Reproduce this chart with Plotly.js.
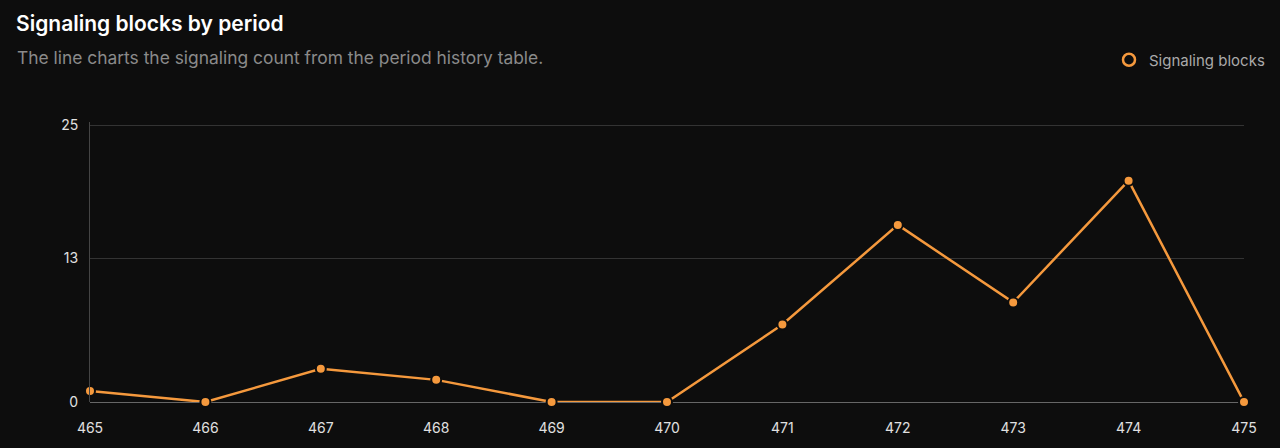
<!DOCTYPE html>
<html>
<head>
<meta charset="utf-8">
<script src="https://cdn.plot.ly/plotly-3.0.1.min.js"></script>
<style>
html,body{margin:0;padding:0;background:#0d0d0d;}
#chart{width:1280px;height:448px;}
</style>
</head>
<body>
<div id="chart"></div>
<script>
const periods = [465, 466, 467, 468, 469, 470, 471, 472, 473, 474, 475];
const signalingBlocks = [1, 0, 3, 2, 0, 0, 7, 16, 9, 20, 0];
const yTicks = [0, 13, 25];
const seriesName = "Signaling blocks";
const orange = "#f5993d";
const bg = "#0d0d0d";

const traces = [
  {
    x: periods,
    y: signalingBlocks,
    type: "scatter",
    mode: "lines+markers",
    line: {color: orange, width: 2.5},
    marker: {color: orange, size: 10, line: {color: bg, width: 2}},
    cliponaxis: false,
    showlegend: false,
    hoverinfo: "skip"
  },
  {
    x: [null],
    y: [null],
    type: "scatter",
    mode: "markers",
    name: seriesName,
    marker: {color: orange, size: 12, symbol: "circle-open", line: {color: orange, width: 2.5}},
    showlegend: true,
    hoverinfo: "skip"
  }
];

const layout = {
  width: 1280,
  height: 448,
  paper_bgcolor: bg,
  plot_bgcolor: bg,
  font: {family: "Inter, 'Noto Sans', sans-serif", color: "#dddddd", size: 14},
  margin: {l: 90, r: 36, t: 122, b: 46, pad: 0, autoexpand: false},
  title: {
    text: "Signaling blocks by period",
    font: {size: 21, color: "#ffffff", family: "Inter, sans-serif", weight: 600},
    xref: "container", yref: "container",
    x: 16 / 1280, xanchor: "left",
    y: 1 - 24 / 448, yanchor: "middle"
  },
  annotations: [{
    text: "The line charts the signaling count from the period history table.",
    xref: "paper", yref: "paper",
    x: -75 / 1154, xanchor: "left",
    y: 1 + (122 - 58) / 280, yanchor: "middle",
    showarrow: false,
    font: {size: 17.4, color: "#8a8a8a"}
  }],
  showlegend: true,
  legend: {
    orientation: "h",
    xref: "container", yref: "container",
    x: 1270 / 1280, xanchor: "right",
    y: 1 - 60 / 448, yanchor: "middle",
    font: {size: 15, color: "#aaaaaa"},
    bgcolor: "rgba(0,0,0,0)",
    itemwidth: 30
  },
  xaxis: {
    range: [465, 475],
    tickvals: periods,
    ticktext: periods.map(String),
    showgrid: false,
    zeroline: false,
    showline: false,
    ticks: "",
    ticklen: 0,
    ticklabelstandoff: 16,
    tickfont: {size: 14, color: "#e0e0e0"},
    fixedrange: true
  },
  yaxis: {
    range: [0, 25.3],
    tickvals: yTicks,
    ticktext: yTicks.map(String),
    showgrid: true,
    gridcolor: "#333333",
    gridwidth: 1,
    zeroline: true,
    zerolinecolor: "#666666",
    zerolinewidth: 1,
    showline: true,
    linecolor: "#444444",
    linewidth: 1,
    ticks: "",
    ticklabelstandoff: 8,
    tickfont: {size: 14, color: "#e0e0e0"},
    fixedrange: true
  }
};

Plotly.newPlot("chart", traces, layout, {displayModeBar: false, staticPlot: true});
</script>
</body>
</html>
